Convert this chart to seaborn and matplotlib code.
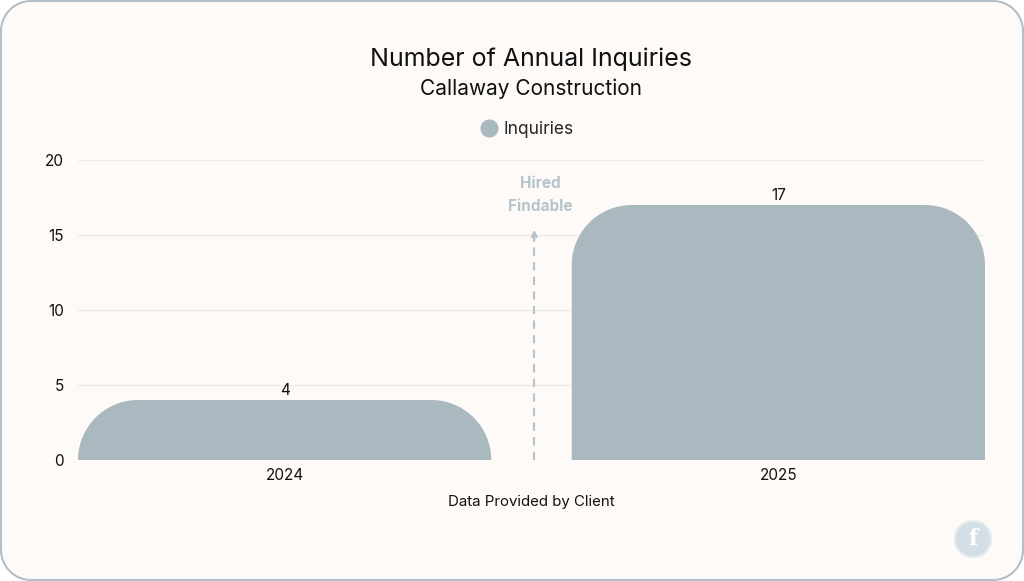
import numpy as np
import pandas as pd
import seaborn as sns
import matplotlib.pyplot as plt
from matplotlib.path import Path
from matplotlib.patches import PathPatch, Circle
from matplotlib.lines import Line2D

# data
years = ["2024", "2025"]
inquiries = [4, 17]
y_ticks = [0, 5, 10, 15, 20]
series_name = "Inquiries"

BG = "#FDFAF7"
BAR = "#AAB8BF"
NOTE = "#B7C4CB"
TXT = "#111111"

W, H = 1024, 581
K = 0.5523
BAR_W = 0.837


def rounded_path(x0, y0, x1, y1, rx, ry, top_only=False):
    # quarter circles drawn as bezier curves, rx/ry given in the units of the path
    v = []
    c = []
    if top_only:
        v += [(x0, y0), (x1, y0)]
        c += [Path.MOVETO, Path.LINETO]
    else:
        v += [(x0, y0 + ry), (x0, y0 + ry - K * ry), (x0 + rx - K * rx, y0), (x0 + rx, y0)]
        c += [Path.MOVETO, Path.CURVE4, Path.CURVE4, Path.CURVE4]
        v += [(x1 - rx, y0), (x1 - rx + K * rx, y0), (x1, y0 + ry - K * ry), (x1, y0 + ry)]
        c += [Path.LINETO, Path.CURVE4, Path.CURVE4, Path.CURVE4]
    v += [(x1, y1 - ry), (x1, y1 - ry + K * ry), (x1 - rx + K * rx, y1), (x1 - rx, y1)]
    c += [Path.LINETO, Path.CURVE4, Path.CURVE4, Path.CURVE4]
    v += [(x0 + rx, y1), (x0 + rx - K * rx, y1), (x0, y1 - ry + K * ry), (x0, y1 - ry)]
    c += [Path.LINETO, Path.CURVE4, Path.CURVE4, Path.CURVE4]
    v += [v[0]]
    c += [Path.CLOSEPOLY]
    return Path(v, c)


sns.set_theme(style="white")
plt.rcParams["font.family"] = ["Inter", "DejaVu Sans"]

fig = plt.figure(figsize=(W / 100, H / 100), dpi=100, facecolor="white")

# card background with rounded corners
r = 30
frame = rounded_path(1 / W, 1 / H, 1 - 1 / W, 1 - 1 / H, r / W, r / H)
fig.patches.append(PathPatch(frame, transform=fig.transFigure, facecolor=BG,
                             edgecolor="#B3C0C7", linewidth=1.5, zorder=-5))

ax = fig.add_axes([78 / W, 1 - 460 / H, (985 - 78) / W, (460 - 160) / H])
ax.set_facecolor("none")
ax.set_zorder(2)

df = pd.DataFrame({"year": years, "value": inquiries})
sns.barplot(data=df, x="year", y="value", color=BAR, width=BAR_W, saturation=1, ax=ax)

ax.set_xlim(-BAR_W / 2, 1 + BAR_W / 2)
ax.set_ylim(0, 20)
ax.set_yticks(y_ticks)
ax.grid(axis="y", color="#EFEBE7", linewidth=1)
ax.set_axisbelow(True)
sns.despine(ax=ax, left=True, bottom=True)
ax.tick_params(length=0, labelsize=11, colors=TXT)
ax.tick_params(axis="x", pad=6)
ax.tick_params(axis="y", pad=10)
ax.set_xlabel("")
ax.set_ylabel("")

# replace square bars with rounded-top ones
px_x = (985 - 78) / (1 + BAR_W)
px_y = (460 - 160) / 20.0
rad = 60
for p in list(ax.patches):
    x0, y0 = p.get_x(), p.get_y()
    w, h = p.get_width(), p.get_height()
    rp = min(rad, h * px_y, w * px_x / 2)
    path = rounded_path(x0, y0, x0 + w, y0 + h, rp / px_x, rp / px_y, top_only=True)
    ax.add_patch(PathPatch(path, facecolor=BAR, edgecolor="none", zorder=2))
    p.set_visible(False)
    ax.text(x0 + w / 2, h + 0.12, f"{h:g}", ha="center", va="bottom", fontsize=11, color=TXT)

# "Hired Findable" marker
ax_x = 0.5056
ax.plot([ax_x, ax_x], [0, 15.1], color=NOTE, lw=1.5, linestyle=(0, (4, 3)), zorder=3)
ax.annotate("", xy=(ax_x, 15.35), xytext=(ax_x, 14.6),
            arrowprops=dict(arrowstyle="->", color=NOTE, lw=1.5,
                            shrinkA=0, shrinkB=0, mutation_scale=9), zorder=3)
ax.text(0.518, 18.4, "Hired", ha="center", va="center", fontsize=11, color=NOTE, fontweight="bold")
ax.text(0.518, 16.9, "Findable", ha="center", va="center", fontsize=11, color=NOTE, fontweight="bold")

cx = 531.5 / W
fig.text(cx, 1 - 59 / H, "Number of Annual Inquiries", ha="center", va="center", fontsize=18, color=TXT)
fig.text(cx, 1 - 89 / H, "Callaway Construction", ha="center", va="center", fontsize=15, color=TXT)
fig.text(cx, 1 - 502 / H, "Data Provided by Client", ha="center", va="center", fontsize=10.8, color=TXT)

handle = Line2D([], [], marker="o", linestyle="none", markersize=12, markerfacecolor=BAR,
                markeredgecolor=BAR)
fig.legend([handle], [series_name], loc="center", bbox_to_anchor=(527 / W, 1 - 130 / H),
           frameon=False, fontsize=12.5, handletextpad=0.3, handlelength=1.0)

# logo
lx, ly = 973 / W, 1 - 539 / H
fig.patches.append(Circle((973, H - 539), 18, transform=None, facecolor="#D4DFE5",
                          edgecolor="#E3EAEE", linewidth=1.5))
fig.text(lx, ly, "f", ha="center", va="center", fontsize=16, color="white",
         fontweight="bold", family="DejaVu Serif")

fig.savefig("out.png", dpi=100, facecolor="white")
